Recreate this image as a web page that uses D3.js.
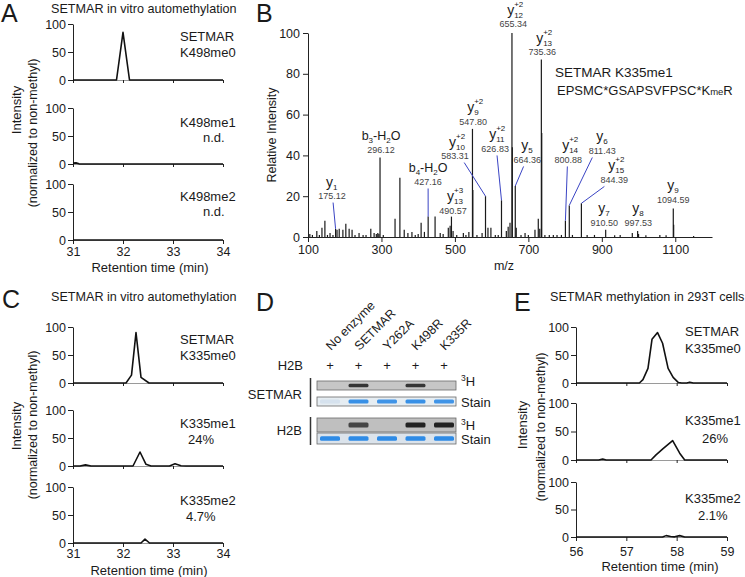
<!DOCTYPE html>
<html><head><meta charset="utf-8">
<script src="https://cdn.jsdelivr.net/npm/d3@7/dist/d3.min.js"></script>
<style>
html,body{margin:0;padding:0;background:#fff;}
svg{display:block;}
</style></head>
<body>
<svg id="fig" width="745" height="577" xmlns="http://www.w3.org/2000/svg"></svg>
<script>
// ================= DATA =================
const rtTicksInVitro = [31, 32, 33, 34];
const rtTicksCells = [56, 57, 58, 59];
const intensityTicks = [0, 50, 100];

// Panel A : [retention time (min), intensity]
const a_K498me0 = [[31,0],[31.87,0],[32.0,85],[32.13,0],[34,0]];
const a_K498me1 = [[31,1.5],[31.06,2],[31.12,0.3],[31.2,0],[34,0]];
const a_K498me2 = [[31,0],[34,0]];
const annoA = [["SETMAR","K498me0"],["K498me1","n.d."],["K498me2","n.d."]];

// Panel C
const c_K335me0 = [[31,0],[32.06,0],[32.17,14],[32.26,90],[32.36,10],[32.52,0],[34,0]];
const c_K335me1 = [[31,0],[31.14,0],[31.25,2],[31.36,0],[32.2,0],[32.34,25],[32.46,3],[32.56,0],[32.93,0],[33.04,4],[33.16,0.5],[33.26,0],[34,0]];
const c_K335me2 = [[31,0],[32.36,0],[32.44,7],[32.53,0],[34,0]];
const annoC = [["SETMAR","K335me0"],["K335me1","24%"],["K335me2","4.7%"]];

// Panel E
const e_K335me0 = [[56,0],[57.26,0],[57.33,6],[57.43,26],[57.51,78],[57.62,90],[57.72,71],[57.83,26],[57.93,10],[58.03,1],[58.1,0],[58.2,0],[58.26,1.5],[58.33,0],[59,0]];
const e_K335me1 = [[56,0],[56.45,0],[56.53,1.5],[56.6,0],[57.49,0],[57.59,9],[57.73,20],[57.92,34],[58.06,12],[58.16,0],[59,0]];
const e_K335me2 = [[56,0],[57.72,0],[57.79,2.5],[57.88,1],[57.96,0.3],[58.06,2.5],[58.16,0],[59,0]];
const annoE = [["SETMAR","K335me0"],["K335me1","26%"],["K335me2","2.1%"]];

// Panel B : MS/MS spectrum
const mzTicks = [100,300,500,700,900,1100];
const relIntTicks = [0,20,40,60,80,100];
const peakMz  = [105,112,124,131,138,146,153,160,168,175.12,179,185,195,203,212,220,228,239,250,258,271,280,286,290,293,296.12,305,
                 337,350.2,362,372,383,392,400,408,417,427.16,446,460,468,482,487,490.57,495,505,523,530,538,547.80,548.8,560,574,583.31,
                 590,598,610,618,626.83,640,645,650,655.34,656.3,664.36,667,680,691,700,718,727,731,735.36,736.4,745,757,768,778,790,
                 800.88,811.43,820,844.39,860,880,910.50,935,950,983,997.53,1000,1020,1058,1075,1094.59,1095.6,1150];
const peakInt = [1.5,1,3,1,4.5,8,1,2,1,4,3.5,4,3.5,6.5,4,3.5,1,2,1,1,4,2,1.5,2,1.5,39,1,
                 9,29,3.5,2,2.5,1,1.5,7,2.5,10,10,2,1.5,4.5,5.5,10,3,1,2,1,2.5,53,23,1,2,20,
                 4.5,4.5,1,1,18,3,5,7,100,44,25,4.5,1,2,1,3.5,9,4,87,51,1,1,1,1,1,
                 8,15.5,1,16.5,1,1,3.5,0.8,1,2,3,1.5,0.8,1,0.8,14,6,0.5];
const ionSeries = ['y','b','b','y','y','y','y','y','y','y','y','y','y','y','y','y'];
const ionIndex  = ['1','3','4','13','10','9','11','12','5','13','14','6','15','7','8','9'];
const ionCharge = ['','','','+3','+2','+2','+2','+2','','+2','+2','','+2','','',''];
const ionMz     = [175.12,296.12,427.16,490.57,583.31,547.80,626.83,655.34,664.36,735.36,800.88,811.43,844.39,910.50,997.53,1094.59];

// Panel D : autoradiography / stain band strengths
const lanes = ["No enzyme","SETMAR","Y262A","K498R","K335R"];
const h2bAdded = ["+","+","+","+","+"];
const setmarRad   = [0, 0.85, 0, 0.85, 0];
const setmarStain = [0.05, 0.95, 0.9, 0.95, 0.9];
const h2bRad      = [0, 0.75, 0, 0.95, 0.95];
const h2bStain    = [1, 1, 1, 1, 1];

// ================= LAYOUT =================
// label anchor of each ion annotation, in data coordinates [m/z, rel. intensity]
const ionLabelAt = [[165.4,18.6],[298.9,41.2],[427,25.5],[495.1,11.3],[500.5,38.2],[549.6,55],[609.5,41.7],[658.6,102.9],
                    [696.7,36.3],[737.6,89.2],[808.4,36.3],[901.1,40.7],[933.8,26.5],[906.5,5.4],[999.2,5.4],[1094.6,16.7]];
const ionLeader  = [true,false,true,false,true,false,true,false,true,false,true,true,true,false,false,false];

const FONT = '"Liberation Sans", Arial, Helvetica, sans-serif';
const svg = d3.select('#fig').attr('font-family', FONT);

function txt(parent, x, y, s, size, o = {}) {
  const t = parent.append('text').attr('x', x).attr('y', y).attr('font-size', size)
    .attr('fill', o.fill || '#1a1a1a').attr('text-anchor', o.anchor || 'start').text(s);
  if (o.rotate) t.attr('transform', `rotate(${o.rotate},${x},${y})`);
  return t;
}
function styleAxis(g, size) {
  g.attr('font-family', FONT).attr('font-size', size);
  g.selectAll('text').attr('fill', '#1a1a1a');
  g.selectAll('line').attr('stroke', '#222');
  g.select('.domain').attr('stroke', '#222');
}

// ---------- chromatogram panels ----------
function chromPanel(cfg) {
  const g = svg.append('g');
  const x = d3.scaleLinear().domain(cfg.xDomain).range(cfg.xRange);
  cfg.series.forEach((data, i) => {
    const L = cfg.layout[i];
    const y = d3.scaleLinear().domain([0, 100]).range([L.y0, L.y100]);
    const last = i === cfg.series.length - 1;
    const xa = g.append('g').attr('transform', `translate(0,${L.y0})`)
      .call(d3.axisBottom(x).tickValues(cfg.xTicks).tickSizeOuter(0)
        .tickSize(last ? 4 : 3).tickPadding(cfg.tickPad)
        .tickFormat(last ? d3.format('d') : () => ''));
    styleAxis(xa, 12.5);
    xa.select('.domain').attr('stroke', '#9a9a9a');
    const ya = g.append('g').attr('transform', `translate(${cfg.xRange[0]},0)`)
      .call(d3.axisLeft(y).tickValues(intensityTicks).tickSize(5).tickSizeOuter(0).tickPadding(2));
    styleAxis(ya, 12.5);
    g.append('path').datum(data)
      .attr('d', d3.line().x(d => x(d[0])).y(d => y(d[1])))
      .attr('fill', 'none').attr('stroke', '#111').attr('stroke-width', 1.6)
      .attr('stroke-linejoin', 'round');
    const a = cfg.anno[i];
    txt(g, L.ax1, L.y100 + L.ad1, a[0], 13);
    txt(g, L.ax2, L.y100 + L.ad2, a[1], 13);
  });
  txt(g, cfg.xTitle[0], cfg.xTitle[1], 'Retention time (min)', 13, {anchor: 'middle'});
  txt(g, cfg.yTitle1[0], cfg.yTitle1[1], 'Intensity', 13, {anchor: 'middle', rotate: -90});
  txt(g, cfg.yTitle2[0], cfg.yTitle2[1], '(normalized to non-methyl)', 12.5, {anchor: 'middle', rotate: -90});
  txt(g, cfg.title[0], cfg.title[1], cfg.titleText, 12.6);
  txt(g, cfg.letter[0], cfg.letter[1], cfg.letterText, 25);
}

chromPanel({
  xDomain: [31, 34], xRange: [73, 223], xTicks: rtTicksInVitro, tickPad: 3,
  series: [a_K498me0, a_K498me1, a_K498me2], anno: annoA,
  layout: [
    {y0: 80,  y100: 24,  ax1: 180, ad1: 17, ax2: 180, ad2: 33},
    {y0: 164, y100: 108, ax1: 180, ad1: 19, ax2: 203, ad2: 34},
    {y0: 240, y100: 184, ax1: 180, ad1: 17, ax2: 203, ad2: 32}],
  xTitle: [150, 272], yTitle1: [21, 110], yTitle2: [37, 133],
  title: [51, 13], titleText: 'SETMAR in vitro automethylation',
  letter: [1, 22], letterText: 'A'
});

chromPanel({
  xDomain: [31, 34], xRange: [73, 223], xTicks: rtTicksInVitro, tickPad: 2,
  series: [c_K335me0, c_K335me1, c_K335me2], anno: annoC,
  layout: [
    {y0: 383, y100: 327, ax1: 180, ad1: 17, ax2: 180, ad2: 33},
    {y0: 466, y100: 410, ax1: 180, ad1: 18, ax2: 188, ad2: 34},
    {y0: 543, y100: 487, ax1: 180, ad1: 18, ax2: 186, ad2: 34}],
  xTitle: [149, 575], yTitle1: [21, 426], yTitle2: [37, 425],
  title: [51, 301], titleText: 'SETMAR in vitro automethylation',
  letter: [2, 308], letterText: 'C'
});

chromPanel({
  xDomain: [56, 59], xRange: [576, 727], xTicks: rtTicksCells, tickPad: 6,
  series: [e_K335me0, e_K335me1, e_K335me2], anno: annoE,
  layout: [
    {y0: 383, y100: 327, ax1: 685, ad1: 9,  ax2: 685, ad2: 26},
    {y0: 460, y100: 403, ax1: 685, ad1: 22, ax2: 702, ad2: 40},
    {y0: 537, y100: 482, ax1: 685, ad1: 21, ax2: 698, ad2: 38}],
  xTitle: [660, 571], yTitle1: [527, 425], yTitle2: [545, 427],
  title: [550, 301], titleText: 'SETMAR methylation in 293T cells',
  letter: [514, 311], letterText: 'E'
});

// ---------- panel B ----------
(function () {
  const g = svg.append('g');
  const bx = d3.scaleLinear().domain([100, 1200]).range([308, 712]);
  const by = d3.scaleLinear().domain([0, 100]).range([237, 33]);
  const byMz = new Map(peakMz.map((m, i) => [m, peakInt[i]]));

  g.selectAll('line.pk').data(peakMz).join('line').attr('class', 'pk')
    .attr('x1', d => bx(d)).attr('x2', d => bx(d))
    .attr('y1', by(0)).attr('y2', (d, i) => by(peakInt[i]))
    .attr('stroke', '#1a1a1a').attr('stroke-width', 1.2);

  const xa = g.append('g').attr('transform', `translate(0,${by(0)})`)
    .call(d3.axisBottom(bx).tickValues(mzTicks).tickFormat(d3.format('d'))
      .tickSize(5).tickSizeOuter(0).tickPadding(3));
  styleAxis(xa, 12.5);
  const ya = g.append('g').attr('transform', `translate(${bx(100)},0)`)
    .call(d3.axisLeft(by).tickValues(relIntTicks).tickSize(5).tickSizeOuter(0).tickPadding(3));
  styleAxis(ya, 12.5);

  txt(g, 276, 135, 'Relative Intensity', 12.5, {anchor: 'middle', rotate: -90});
  txt(g, 504, 270, 'm/z', 12.5, {anchor: 'middle'});
  txt(g, 256, 22, 'B', 25);

  ionMz.forEach((m, i) => {
    const cx = bx(ionLabelAt[i][0]), ny = by(ionLabelAt[i][1]);
    txt(g, cx, ny, m.toFixed(2), 9, {anchor: 'middle', fill: '#444'});
    if (ionSeries[i] === 'b') {
      const t = g.append('text').attr('x', cx).attr('y', ny - 12.5).attr('text-anchor', 'middle')
        .attr('font-size', 12.5).attr('fill', '#1a1a1a');
      t.append('tspan').text('b');
      t.append('tspan').attr('font-size', 8).attr('dy', 2.5).text(ionIndex[i]);
      t.append('tspan').attr('dy', -2.5).text('-H');
      t.append('tspan').attr('font-size', 8).attr('dy', 2.5).text('2');
      t.append('tspan').attr('dy', -2.5).text('O');
    } else {
      txt(g, cx + 1, ny - 12.5, 'y', 14, {anchor: 'end'});
      txt(g, cx + 1, ny - 9.5, ionIndex[i], 8);
      if (ionCharge[i]) txt(g, cx + 1, ny - 20.5, ionCharge[i], 8);
    }
    if (ionLeader[i]) {
      const px = bx(m), py = by(byMz.get(m));
      g.append('line').attr('x1', cx + 0.3 * (px - cx)).attr('y1', ny + 3.5)
        .attr('x2', px).attr('y2', py).attr('stroke', '#3a44c4').attr('stroke-width', 1);
    }
  });

  txt(g, 555, 77, 'SETMAR K335me1', 13.5);
  const seq = g.append('text').attr('x', 557).attr('y', 95).attr('font-size', 13).attr('fill', '#1a1a1a');
  seq.append('tspan').text('EPSMC*GSAPSVFPSC*K');
  seq.append('tspan').attr('font-size', 9.5).text('me');
  seq.append('tspan').text('R');
})();

// ---------- panel D ----------
(function () {
  const g = svg.append('g');
  const defs = svg.append('defs');
  defs.append('filter').attr('id', 'blur').attr('x', '-20%').attr('y', '-50%').attr('width', '140%').attr('height', '200%')
    .append('feGaussianBlur').attr('stdDeviation', 0.6);

  const lx = d3.scalePoint().domain(lanes).range([330, 444]);
  txt(g, 256, 311, 'D', 25);

  lanes.forEach(l => {
    txt(g, lx(l) + 1, 351, l, 12.5, {rotate: -45});
  });
  lanes.forEach((l, i) => txt(g, lx(l), 370, h2bAdded[i], 13, {anchor: 'middle'}));
  txt(g, 303, 370, 'H2B', 13, {anchor: 'end'});

  const rows = [
    {vals: setmarRad,   kind: 'rad',   y: 381, h: 9,  bh: 3.5, fill: '#c6c6c6', lab: 'rad',   ly: 386},
    {vals: setmarStain, kind: 'stain', y: 397, h: 9,  bh: 4,   fill: '#e6edf2', lab: 'Stain', ly: 407},
    {vals: h2bRad,      kind: 'rad',   y: 418, h: 14, bh: 5,   fill: '#bfbfbf', lab: 'rad',   ly: 430},
    {vals: h2bStain,    kind: 'stain', y: 433, h: 11, bh: 4.5, fill: '#dbe3eb', lab: 'Stain', ly: 444}
  ];
  const radCol = d3.interpolateRgb('#c0c0c0', '#1c1c1c');
  const stainCol = d3.interpolateRgb('#dfe7ee', '#2f8be6');
  rows.forEach(r => {
    g.append('rect').attr('x', 317).attr('y', r.y).attr('width', 139).attr('height', r.h)
      .attr('fill', r.fill).attr('stroke', '#6a6a6a').attr('stroke-width', 0.8);
    g.selectAll(null).data(r.vals).join('rect')
      .attr('x', (d, i) => lx(lanes[i]) - 10).attr('width', 20)
      .attr('y', r.y + r.h / 2 - r.bh / 2).attr('height', r.bh).attr('rx', 1.5)
      .attr('fill', d => r.kind === 'rad' ? radCol(d) : stainCol(d))
      .attr('opacity', d => d > 0 ? 1 : 0)
      .attr('filter', 'url(#blur)');
    if (r.lab === 'rad') {
      const t = g.append('text').attr('x', 461).attr('y', r.ly).attr('font-size', 13).attr('fill', '#1a1a1a');
      t.append('tspan').attr('font-size', 8.5).attr('dy', -5).text('3');
      t.append('tspan').attr('dy', 5).text('H');
    } else {
      txt(g, 461, r.ly, r.lab, 13);
    }
  });
  txt(g, 302, 399, 'SETMAR', 13, {anchor: 'end'});
  txt(g, 302, 435, 'H2B', 13, {anchor: 'end'});
  g.append('line').attr('x1', 310.5).attr('x2', 310.5).attr('y1', 378).attr('y2', 407).attr('stroke', '#333').attr('stroke-width', 1.5);
  g.append('line').attr('x1', 310.5).attr('x2', 310.5).attr('y1', 417).attr('y2', 445).attr('stroke', '#333').attr('stroke-width', 1.5);
})();
</script>
</body></html>
